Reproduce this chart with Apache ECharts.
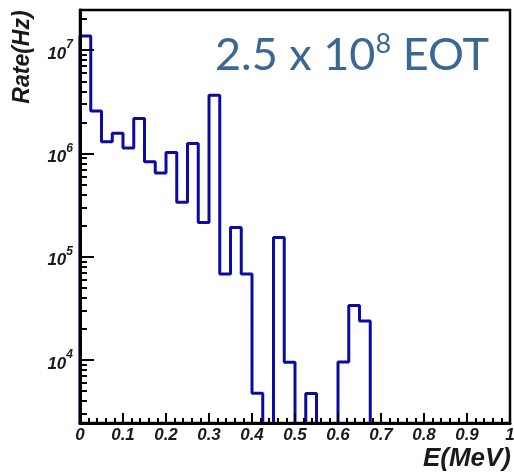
<!DOCTYPE html>
<html>
<head>
<meta charset="utf-8">
<script src="https://cdn.jsdelivr.net/npm/echarts@6/dist/echarts.min.js"></script>
<style>
  html, body { margin: 0; padding: 0; background: #fff; }
  #chart { width: 514px; height: 475px; }
</style>
</head>
<body>
<div id="chart"></div>
<script>
// Energy spectrum: 40 equal bins between 0 and 1 MeV, rate per bin in Hz (0 = empty bin)
const energyRange = [0, 1];
const rates = [
  1.37e7, 2.57e6, 1.30e6, 1.57e6, 1.13e6, 2.18e6, 8.30e5, 6.45e5, 1.02e6, 3.37e5,
  1.25e6, 2.14e5, 3.67e6, 6.80e4, 1.92e5, 6.80e4, 4.76e3, 0,      1.53e5, 9.50e3,
  0,      4.74e3, 0,      0,      9.56e3, 3.37e4, 2.385e4, 0,     0,      0,
  0,      0,      0,      0,      0,      0,      0,      0,      0,      0
];
const xTickLabels = ['0', '0.1', '0.2', '0.3', '0.4', '0.5', '0.6', '0.7', '0.8', '0.9', '1'];
const rateRange = [2450, 2.45e7];
const yMajorTicks = [1e4, 1e5, 1e6, 1e7];

// minor ticks at 2..9 x 10^n inside the visible range
const yMinorTicks = [];
for (let e = 3; e <= 7; e++) {
  for (let m = 2; m <= 9; m++) {
    const v = m * Math.pow(10, e);
    if (v > rateRange[0] && v < rateRange[1]) yMinorTicks.push(v);
  }
}

// histogram outline as a stepped line through the bin edges;
// empty bins drop below the frame and are clipped away
const binWidth = (energyRange[1] - energyRange[0]) / rates.length;
const belowFrame = rateRange[0] / 10;
const outline = [[energyRange[0], belowFrame]];
rates.forEach((r, i) => {
  outline.push([energyRange[0] + i * binWidth, r > 0 ? r : belowFrame]);
});
const lastRate = rates[rates.length - 1];
outline.push([energyRange[1], lastRate > 0 ? lastRate : belowFrame]);
outline.push([energyRange[1], belowFrame]);

const FONT = "'Liberation Sans', Arial, Helvetica, sans-serif";
const LABEL_COLOR = '#1a1a1a';

const chart = echarts.init(document.getElementById('chart'), null, { renderer: 'canvas' });
chart.setOption({
  animation: false,
  backgroundColor: '#fff',
  grid: {
    left: 80, right: 4, top: 10, bottom: 52,
    show: true, borderColor: '#000', borderWidth: 2.5,
    backgroundColor: 'transparent',
    containLabel: false,
    outerBoundsMode: 'none'
  },
  xAxis: {
    type: 'value',
    min: energyRange[0], max: energyRange[1], interval: 0.1,
    z: 5,
    axisLine: { show: true, lineStyle: { color: '#000', width: 3 } },
    axisTick: { show: true, inside: true, length: 10, lineStyle: { color: '#000', width: 2 } },
    minorTick: { show: true, splitNumber: 5, length: 5, lineStyle: { color: '#000', width: 2 } },
    splitLine: { show: false },
    axisLabel: {
      margin: 4,
      color: LABEL_COLOR,
      fontFamily: FONT, fontSize: 17, fontWeight: 'bold', fontStyle: 'italic',
      showMinLabel: true, showMaxLabel: true,
      formatter: v => xTickLabels[Math.round(v * 10)]
    }
  },
  yAxis: [
    {
      type: 'log', logBase: 10,
      min: rateRange[0], max: rateRange[1],
      position: 'left',
      z: 5,
      axisLine: { show: true, lineStyle: { color: '#000', width: 3 } },
      axisTick: { show: true, inside: true, length: 14, customValues: yMajorTicks,
                  lineStyle: { color: '#000', width: 2 } },
      splitLine: { show: false },
      axisLabel: {
        customValues: yMajorTicks,
        margin: 7,
        formatter: v => '{b|10}{s|' + Math.round(Math.log10(v)) + '}',
        rich: {
          b: { fontFamily: FONT, fontSize: 17, fontWeight: 'bold', fontStyle: 'italic',
               color: LABEL_COLOR, lineHeight: 22, padding: [8, 0, 0, 0] },
          s: { fontFamily: FONT, fontSize: 12, fontWeight: 'bold', fontStyle: 'italic',
               color: LABEL_COLOR, verticalAlign: 'top', lineHeight: 22 }
        }
      }
    },
    {
      type: 'log', logBase: 10,
      min: rateRange[0], max: rateRange[1],
      position: 'left',
      z: 5,
      axisLine: { show: false },
      axisTick: { show: true, inside: true, length: 7, customValues: yMinorTicks,
                  lineStyle: { color: '#000', width: 2 } },
      splitLine: { show: false },
      axisLabel: { show: false }
    }
  ],
  series: [{
    type: 'line',
    yAxisIndex: 0,
    step: 'end',
    showSymbol: false,
    symbol: 'none',
    clip: true,
    lineStyle: { color: '#0b0ba3', width: 3 },
    data: outline,
    z: 2
  }],
  graphic: [
    {
      type: 'text',
      x: 23, y: 57,
      rotation: Math.PI / 2,
      style: {
        text: 'Rate(Hz)',
        fontFamily: FONT, fontSize: 23, fontWeight: 'bold', fontStyle: 'italic',
        fill: LABEL_COLOR, align: 'center', verticalAlign: 'middle'
      }
    },
    {
      type: 'text',
      x: 511, y: 459,
      style: {
        text: 'E(MeV)',
        fontFamily: FONT, fontSize: 26, fontWeight: 'bold', fontStyle: 'italic',
        fill: LABEL_COLOR, align: 'right', verticalAlign: 'middle'
      }
    },
    {
      type: 'text',
      x: 215, y: 79,
      style: {
        text: '{a|2.5 x 10}{s|8}{a| EOT}',
        align: 'left', verticalAlign: 'bottom',
        rich: {
          a: { fontFamily: "Lato, 'Open Sans', sans-serif", fontSize: 45, fill: '#3b6796', lineHeight: 48 },
          s: { fontFamily: "Lato, 'Open Sans', sans-serif", fontSize: 27, fill: '#3b6796', verticalAlign: 'top', lineHeight: 48 }
        }
      }
    }
  ]
});
</script>
</body>
</html>
